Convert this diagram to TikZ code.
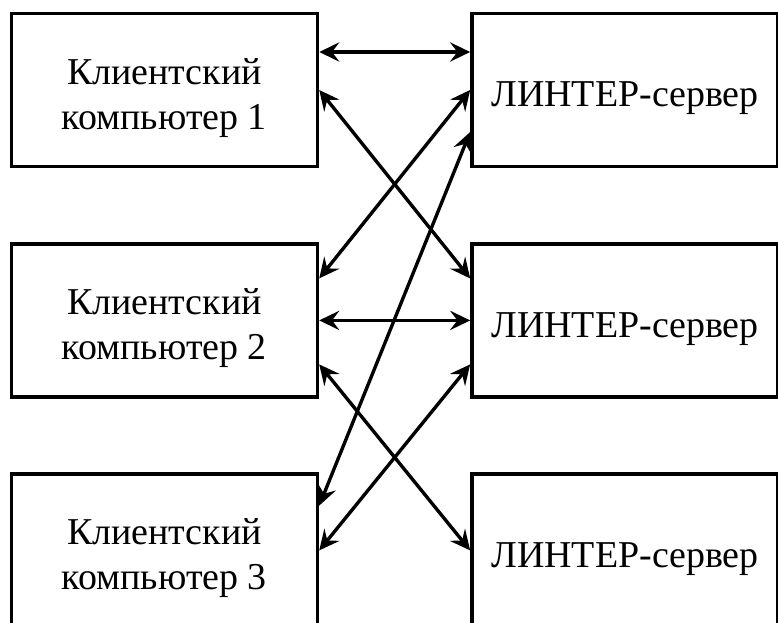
\documentclass[tikz,border=0pt]{standalone}
\usepackage{fontspec}
\setmainfont{Liberation Serif}
\usetikzlibrary{arrows.meta, positioning, calc}
\newcommand{\lift}{\rule{0pt}{1.05cm}}% pushes the text a bit below the box middle
\tikzset{
  >={Stealth[length=5mm, width=4.8mm, inset=1.8mm]},
  box/.style={draw, line width=2.6pt, minimum width=7.65cm,
    minimum height=3.83cm, align=center, inner sep=2pt,
    font=\fontsize{27}{32}\selectfont},
  client/.style={box},
  server/.style={box},
  flow/.style={<->, line width=2.4pt, draw=black},
}

\begin{document}
\begin{tikzpicture}

  % picture frame (boxes run past the bottom and right edge)
  \clip (0,0) rectangle (19.45,-15.55);

  % ---- Nodes -------------------------------------------------------------
  \node[client] (cl1)  at (4.11,-2.25)   {\lift Клиентский\\компьютер 1};
  \node[client] (cl2)  at (4.11,-8.01)   {\lift Клиентский\\компьютер 2};
  \node[client] (cl3)  at (4.11,-13.76)  {\lift Клиентский\\компьютер 3};

  \node[server] (srv1) at (15.625,-2.25)  {\lift ЛИНТЕР-сервер};
  \node[server] (srv2) at (15.625,-8.01)  {\lift ЛИНТЕР-сервер};
  \node[server] (srv3) at (15.625,-13.76) {\lift ЛИНТЕР-сервер};

  % ---- Edges -------------------------------------------------------------
  % every client talks to the two servers next to it
  \draw[flow] ($(cl1.east)+(0,0.95)$) -- ($(srv1.west)+(0,0.95)$);
  \draw[flow] (cl1.east) -- ($(srv2.west)+(0,1.05)$);
  \draw[flow] (srv1.west) -- ($(cl2.east)+(0,1.05)$);
  \draw[flow] ($(srv1.west)+(0,-1.05)$) -- ($(cl3.east)+(0,1.12)$);

  \draw[flow] (cl2.east) -- (srv2.west);
  \draw[flow] ($(cl2.east)+(0,-1.1)$) -- (srv3.west);
  \draw[flow] ($(srv2.west)+(0,-1.1)$) -- (cl3.east);

\end{tikzpicture}
\end{document}
